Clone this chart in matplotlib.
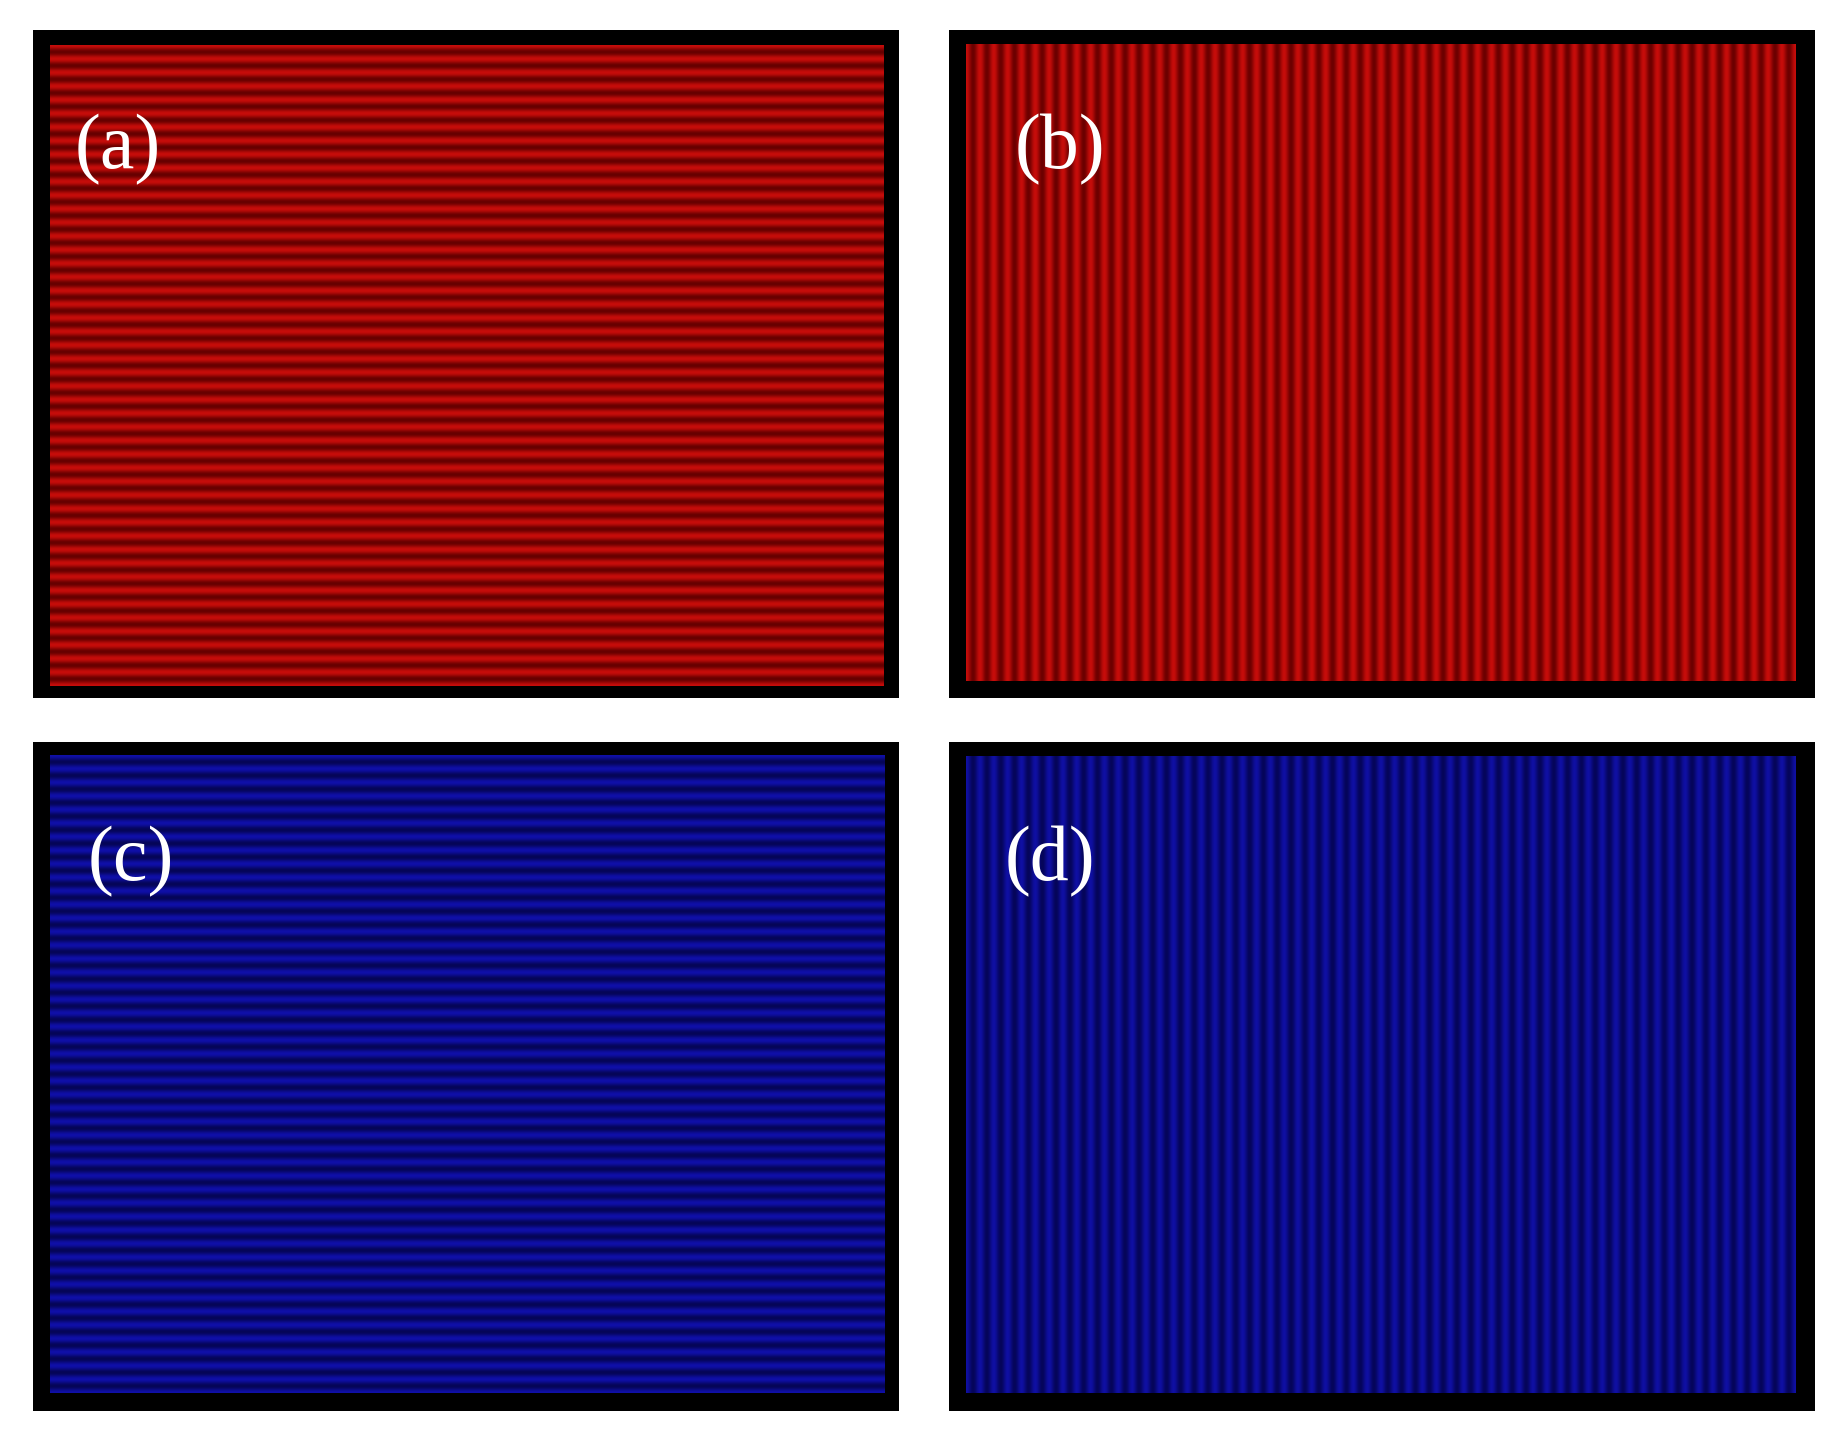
import numpy as np
import matplotlib
matplotlib.use("Agg")
import matplotlib.pyplot as plt

W, H = 1848, 1440
labels = ["(a)", "(b)", "(c)", "(d)"]
orientation = ["horizontal", "vertical", "horizontal", "vertical"]
stripe_counts = [47, 60, 47, 60]
bright_colors = [(0.78, 0.05, 0.04), (0.78, 0.05, 0.04), (0.06, 0.06, 0.66), (0.06, 0.06, 0.64)]
dark_colors = [(0.40, 0.0, 0.0), (0.42, 0.0, 0.0), (0.02, 0.02, 0.34), (0.02, 0.02, 0.35)]
# frames: x0, y0, x1, y1 (pixels, top-left origin)
frames = [(33, 30, 899, 698), (949, 30, 1815, 698), (33, 742, 899, 1411), (949, 742, 1815, 1411)]
inners = [(50, 45, 884, 686), (966, 44, 1796, 681), (50, 755, 885, 1393), (966, 756, 1796, 1393)]
label_pos = [(75, 150), (1015, 150), (88, 862), (1005, 862)]

fig = plt.figure(figsize=(W/100, H/100), dpi=100)
fig.patch.set_facecolor("white")

def add_ax(box):
    x0, y0, x1, y1 = box
    return fig.add_axes([x0/W, 1 - y1/H, (x1-x0)/W, (y1-y0)/H])

for i in range(4):
    fa = add_ax(frames[i])
    fa.set_facecolor("black"); fa.set_xticks([]); fa.set_yticks([])
    for s in fa.spines.values(): s.set_visible(False)
    ia = add_ax(inners[i])
    x0, y0, x1, y1 = inners[i]
    n = stripe_counts[i]
    length = (y1 - y0) if orientation[i] == "horizontal" else (x1 - x0)
    t = np.linspace(0, n, length * 2)
    prof = 0.5 + 0.5 * np.cos(2 * np.pi * t)
    b = np.array(bright_colors[i]); d = np.array(dark_colors[i])
    cols = d[None, :] + prof[:, None] * (b - d)[None, :]
    if orientation[i] == "horizontal":
        img = cols[:, None, :]
    else:
        img = cols[None, :, :]
    ia.imshow(img, aspect="auto", interpolation="bilinear", extent=[0, 1, 0, 1])
    ia.set_xticks([]); ia.set_yticks([])
    for s in ia.spines.values(): s.set_visible(False)
    lx, ly = label_pos[i]
    fig.text(lx/W, 1 - ly/H, labels[i], color="white", fontsize=56,
             family="Liberation Serif", va="center", ha="left")

fig.savefig("out.png", dpi=100, facecolor="white")
